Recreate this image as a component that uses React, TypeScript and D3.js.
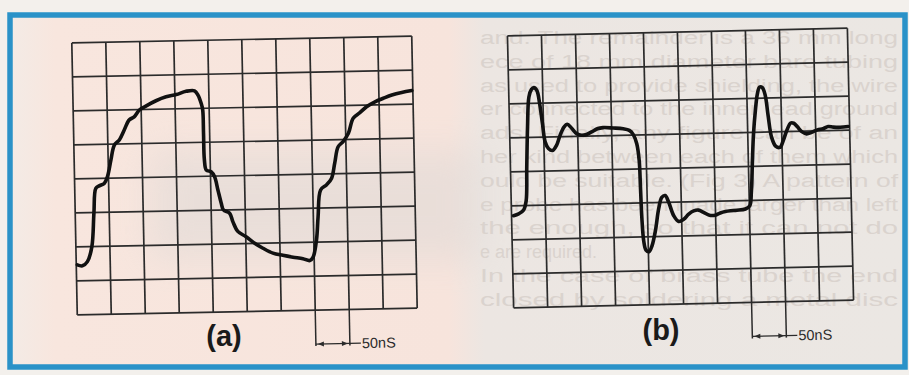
import React from "react";
import * as d3 from "d3";

// Trace (a): time in divisions (0-10), amplitude in divisions (0-8, bottom = 0)
const traceATime = [0.03,0.18,0.33,0.47,0.55,0.62,0.72,0.87,0.97,1.08,1.19,1.34,1.49,1.64,1.79,1.94,2.14,2.44,2.74,3.04,3.33,3.58,3.68,3.77,3.81,3.82,3.83,3.88,4.02,4.12,4.21,4.30,4.36,4.54,4.63,4.77,5.01,5.26,5.50,5.79,6.08,6.38,6.67,6.87,6.97,7.08,7.14,7.23,7.41,7.56,7.66,7.77,7.92,8.08,8.23,8.43,8.63,8.88,9.13,9.38,9.67,9.97];
const traceALevel = [1.47,1.44,1.56,2.0,2.98,3.71,3.78,3.85,4.05,4.53,4.97,5.12,5.41,5.70,5.79,5.98,6.10,6.25,6.36,6.42,6.51,6.52,6.39,6.14,5.95,5.26,4.48,4.18,4.13,3.98,3.59,3.20,3.0,2.90,2.65,2.36,2.20,2.0,1.85,1.70,1.63,1.57,1.52,1.46,1.56,2.07,2.75,3.53,3.68,3.87,4.31,4.79,4.94,5.18,5.62,5.78,5.95,6.09,6.19,6.28,6.35,6.40];

// Trace (b)
const traceBTime = [0.06,0.21,0.36,0.44,0.48,0.53,0.59,0.67,0.74,0.83,0.90,0.97,1.04,1.13,1.25,1.37,1.48,1.60,1.70,1.82,1.97,2.11,2.26,2.41,2.58,2.75,3.05,3.34,3.52,3.63,3.73,3.79,3.81,3.83,3.87,3.93,4.02,4.11,4.22,4.33,4.43,4.53,4.63,4.77,4.91,5.06,5.21,5.36,5.50,5.65,5.82,5.99,6.14,6.29,6.44,6.63,6.88,7.01,7.07,7.12,7.17,7.24,7.31,7.38,7.46,7.54,7.61,7.70,7.82,7.94,8.04,8.15,8.27,8.36,8.46,8.59,8.73,8.88,9.05,9.22,9.37,9.52,9.72,9.96];
const traceBLevel = [2.71,2.76,2.87,3.14,4.13,5.31,6.19,6.41,6.46,6.37,5.99,5.40,4.85,4.66,4.60,4.75,5.04,5.28,5.36,5.25,5.08,5.03,5.05,5.12,5.21,5.24,5.22,5.19,5.14,5.02,4.74,4.25,3.46,2.57,1.88,1.61,1.56,1.73,2.17,2.81,3.15,3.20,3.0,2.60,2.43,2.49,2.64,2.73,2.75,2.68,2.59,2.59,2.65,2.69,2.71,2.72,2.75,2.84,3.28,4.17,4.96,5.64,6.13,6.33,6.31,6.08,5.49,4.84,4.57,4.54,4.74,5.03,5.25,5.24,5.14,4.99,4.92,4.96,5.03,5.06,5.12,5.10,5.09,5.11];

const panelLabels = ["(a)", "(b)"];
const timebaseLabel = "50nS";
const timebaseCols = [7, 8];
const colDivs = d3.range(0, 11);
const rowDivs = d3.range(0, 9);

// faint show-through text of the page behind panel (b)
const backText = [
  "and. The remainder is a 36 mm long",
  "ece of 18 mm diameter bare tubing",
  "as used to provide shielding, the wire",
  "er connected to the inner lead ground",
  "ads. Finally, any figure can be of an",
  "her kind between each of them which",
  "ould be suitable. (Fig 3) A pattern of",
  "e probe has been made larger than left",
  "the enough, so that it can not do",
  "e are required.",
  "In the case of brass tube the end",
  "closed by soldering a metal disc",
];

const CELL = 34;
const xs = d3.scaleLinear().domain([0, 10]).range([-5 * CELL, 5 * CELL]);
const ys = d3.scaleLinear().domain([0, 8]).range([4 * CELL, -4 * CELL]);

type PanelProps = { cx: number; cy: number; angle: number; times: number[]; levels: number[] };

function Scope({ cx, cy, angle, times, levels }: PanelProps) {
  const pts: [number, number][] = times.map((t, i) => [t, levels[i]]);
  const line = d3
    .line<[number, number]>()
    .x((d) => xs(d[0]))
    .y((d) => ys(d[1]))
    .curve(d3.curveCatmullRom.alpha(0.5));
  const bottom = ys(0);
  const xa = xs(timebaseCols[0]);
  const xb = xs(timebaseCols[1]);
  const ay = bottom + 34;
  return (
    <g transform={`translate(${cx},${cy}) rotate(${angle})`}>
      {colDivs.map((c) => (
        <line key={"c" + c} x1={xs(c)} x2={xs(c)} y1={ys(8)} y2={ys(0)} stroke="#2b2b2b" strokeWidth={1.7} />
      ))}
      {rowDivs.map((r) => (
        <line key={"r" + r} x1={xs(0)} x2={xs(10)} y1={ys(r)} y2={ys(r)} stroke="#2b2b2b" strokeWidth={1.7} />
      ))}
      <path d={line(pts) || ""} fill="none" stroke="#111" strokeWidth={3.6} strokeLinejoin="round" strokeLinecap="round" />
      {/* timebase marker */}
      <line x1={xa} x2={xa} y1={bottom} y2={ay + 2} stroke="#2b2b2b" strokeWidth={1.5} />
      <line x1={xb} x2={xb} y1={bottom} y2={ay + 2} stroke="#2b2b2b" strokeWidth={1.5} />
      <line x1={xa} x2={xb + 11} y1={ay} y2={ay} stroke="#2b2b2b" strokeWidth={1.3} />
      <path d={`M${xa + 2},${ay} l6,-2.5 l0,5 z`} fill="#2b2b2b" />
      <path d={`M${xb - 2},${ay} l-6,-2.5 l0,5 z`} fill="#2b2b2b" />
      <text x={xb + 12} y={ay + 5} fontFamily="'Liberation Sans', Arial, sans-serif" fontSize={14.5} fill="#2b2b2b">
        {timebaseLabel}
      </text>
    </g>
  );
}

export default function App() {
  return (
    <svg width={909} height={375} style={{ position: "absolute", left: 0, top: 0 }}>
      <defs>
        <linearGradient id="bg" x1="0" x2="1" y1="0" y2="0">
          <stop offset="0" stopColor="#f3ebe6" />
          <stop offset="0.05" stopColor="#f8e6de" />
          <stop offset="0.49" stopColor="#f7e4dc" />
          <stop offset="0.53" stopColor="#ece6e2" />
          <stop offset="1" stopColor="#ebe7e3" />
        </linearGradient>
        <filter id="blur" x="-50%" y="-50%" width="200%" height="200%">
          <feGaussianBlur stdDeviation="18" />
        </filter>
        <clipPath id="rightClip">
          <rect x={478} y={18} width={425} height={347} />
        </clipPath>
      </defs>
      <rect x={0} y={0} width={909} height={375} fill="#f3f0ec" />
      <rect x={10} y={15} width={895} height={352} fill="url(#bg)" />
      <rect x={150} y={150} width={330} height={110} fill="#d9d7d5" opacity={0.45} filter="url(#blur)" />
      <g clipPath="url(#rightClip)">
        {backText.map((t, i) => (
          <text
            key={i}
            x={480}
            y={44 + i * 23.8}
            fontFamily="'Liberation Sans', Arial, sans-serif"
            fontSize={18}
            fill="#dad3ce"
            textLength={t.length > 20 ? 418 : undefined}
            lengthAdjust="spacingAndGlyphs"
          >
            {t}
          </text>
        ))}
      </g>
      <rect x={10} y={15} width={895} height={352} fill="none" stroke="#2a92c8" strokeWidth={5.5} />
      <Scope cx={244.5} cy={175.5} angle={-1.15} times={traceATime} levels={traceALevel} />
      <Scope cx={680.5} cy={168} angle={-1.3} times={traceBTime} levels={traceBLevel} />
      <text x={224} y={346} textAnchor="middle" fontFamily="'Liberation Sans', Arial, sans-serif" fontWeight="bold" fontSize={29} fill="#1a1a1a">
        {panelLabels[0]}
      </text>
      <text x={661} y={340} textAnchor="middle" fontFamily="'Liberation Sans', Arial, sans-serif" fontWeight="bold" fontSize={29} fill="#1a1a1a">
        {panelLabels[1]}
      </text>
    </svg>
  );
}
